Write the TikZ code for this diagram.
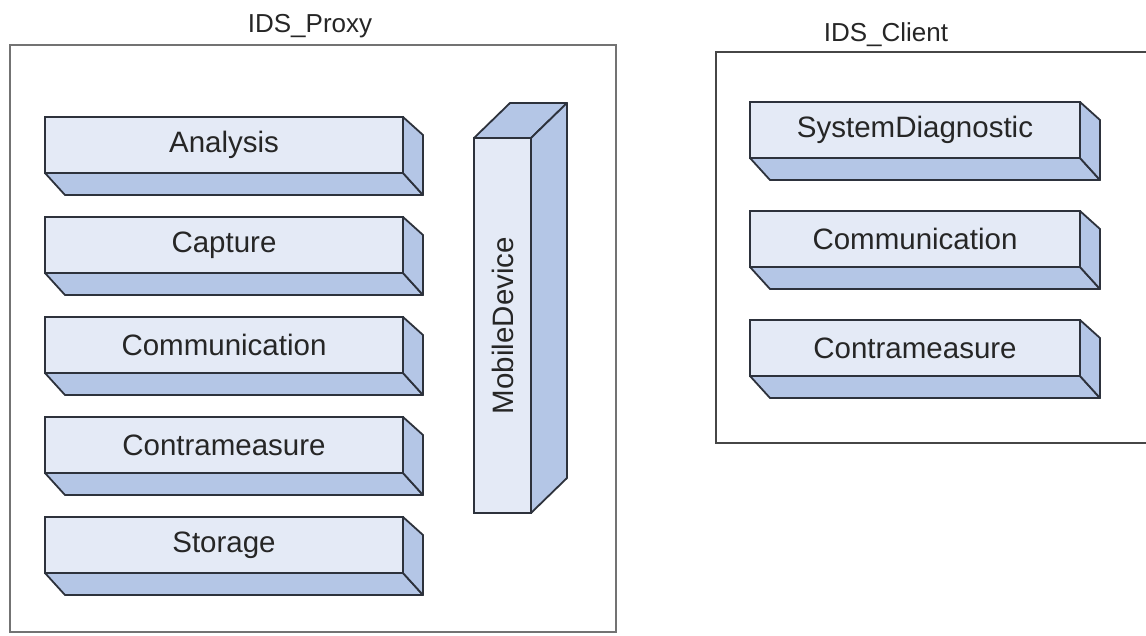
\documentclass[tikz,border=0pt]{standalone}
\usepackage{fontspec}
\setmainfont{Liberation Sans}
\usetikzlibrary{calc}
\definecolor{frontc}{RGB}{228,234,246}
\definecolor{sidec}{RGB}{180,198,230}
\definecolor{edgec}{RGB}{45,50,60}
\definecolor{framec}{RGB}{115,115,115}
\definecolor{frameb}{RGB}{70,70,70}
\tikzset{
  x=1pt, y=-1pt,
  front/.style={draw=edgec, line width=1.8pt, fill=frontc, rectangle, inner sep=0pt, outer sep=0pt,
    font=\fontsize{29.5}{34}\selectfont, text=black!85},
  side/.style={draw=edgec, line width=1.8pt, fill=sidec, line join=round},
  framebox/.style={rectangle, inner sep=0pt, outer sep=0pt, line width=2.2pt},
  title/.style={font=\fontsize{26}{30}\selectfont, text=black!85, inner sep=0pt}
}
% horizontal bar: name, x, y, width, text
\newcommand{\barH}[5]{%
  \node[front, minimum width=#4pt, minimum height=56pt, anchor=north west] (#1) at (#2,#3) {#5};
  \draw[side] (#1.south west) -- ++(20,22) -- ($(#1.south east)+(20,22)$) -- (#1.south east) -- cycle;
  \draw[side] (#1.north east) -- ++(20,18) -- ($(#1.south east)+(20,22)$) -- (#1.south east) -- cycle;
}
\begin{document}
\begin{tikzpicture}
\useasboundingbox (0,0) rectangle (1146,635);
\fill[white] (0,0) rectangle (1146,635);
\begin{scope}
\clip (0,0) rectangle (1146,635);
% frames
\node[framebox, draw=framec, minimum width=606pt, minimum height=587pt, anchor=north west] (proxy) at (10,45) {};
\node[title] (proxytitle) at (310,26) {IDS\_Proxy};
\node[framebox, draw=frameb, minimum width=450pt, minimum height=391pt, anchor=north west] (client) at (716,52) {};
\node[title] (clienttitle) at (886,35) {IDS\_Client};
\end{scope}
% proxy bars
\barH{analysis}{45}{117}{358}{Analysis}
\barH{capture}{45}{217}{358}{Capture}
\barH{comm}{45}{317}{358}{Communication}
\barH{contra}{45}{417}{358}{Contrameasure}
\barH{storage}{45}{517}{358}{Storage}
% mobile device (rotated node: north east = page top-left, south east = page top-right, south west = page bottom-right)
\node[front, rotate=90, minimum width=375pt, minimum height=57pt] (mobile) at (502.5,325.5) {MobileDevice};
\draw[side] (mobile.north east) -- ++(36,-35) -- ($(mobile.south east)+(36,-35)$) -- (mobile.south east) -- cycle;
\draw[side] (mobile.south east) -- ++(36,-35) -- ($(mobile.south west)+(36,-35)$) -- (mobile.south west) -- cycle;
% client bars
\barH{sysdiag}{750}{102}{330}{SystemDiagnostic}
\barH{ccomm}{750}{211}{330}{Communication}
\barH{ccontra}{750}{320}{330}{Contrameasure}
\end{tikzpicture}
\end{document}
